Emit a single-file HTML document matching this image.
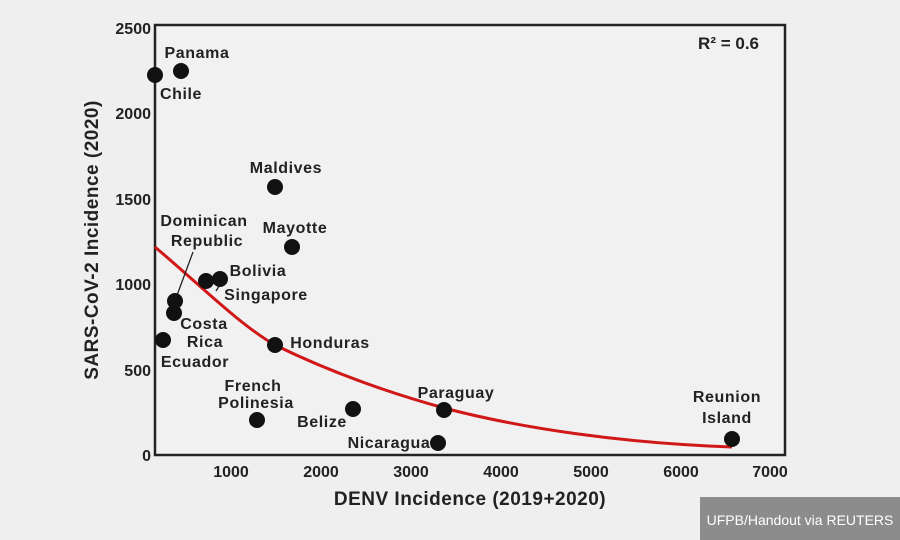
<!DOCTYPE html>
<html><head><meta charset="utf-8"><style>
body{margin:0;background:#efefef;}
svg{display:block}
text{font-family:"Liberation Sans",sans-serif;font-weight:bold;fill:#222;}
</style></head><body>
<svg width="900" height="540" viewBox="0 0 900 540">
<rect width="900" height="540" fill="#efefef"/>
<rect x="155" y="25" width="630" height="430" fill="#f1f1f1" stroke="#222" stroke-width="2.5"/>
<g font-size="16" text-anchor="end">
<text x="151" y="34">2500</text>
<text x="151" y="119">2000</text>
<text x="151" y="205">1500</text>
<text x="151" y="290">1000</text>
<text x="151" y="376">500</text>
<text x="151" y="461">0</text>
</g>
<g font-size="16" text-anchor="middle">
<text x="231" y="477">1000</text>
<text x="321" y="477">2000</text>
<text x="411" y="477">3000</text>
<text x="501" y="477">4000</text>
<text x="591" y="477">5000</text>
<text x="681" y="477">6000</text>
<text x="770" y="477">7000</text>
</g>
<text x="470" y="505" font-size="19" text-anchor="middle" letter-spacing="0.5">DENV Incidence (2019+2020)</text>
<text transform="translate(98,240) rotate(-90)" font-size="19" text-anchor="middle" letter-spacing="0.5">SARS-CoV-2 Incidence (2020)</text>
<text x="759" y="49" font-size="17" text-anchor="end">R² = 0.6</text>
<path d="M155,247 C200,285 240,325 275,345 C330,372 390,393 444,408 C520,428 620,443 732,447" fill="none" stroke="#d01818" stroke-width="3"/>
<g stroke="#222" stroke-width="1.3">
<line x1="193" y1="252" x2="176" y2="298"/>
<line x1="221" y1="283" x2="216" y2="291"/>
</g>
<g fill="#111">
<circle cx="155" cy="75" r="8"/><circle cx="181" cy="71" r="8"/>
<circle cx="275" cy="187" r="8"/><circle cx="292" cy="247" r="8"/>
<circle cx="220" cy="279" r="8"/><circle cx="206" cy="281" r="8"/>
<circle cx="175" cy="301" r="8"/><circle cx="174" cy="313" r="8"/>
<circle cx="163" cy="340" r="8"/><circle cx="275" cy="345" r="8"/>
<circle cx="257" cy="420" r="8"/><circle cx="353" cy="409" r="8"/>
<circle cx="444" cy="410" r="8"/><circle cx="438" cy="443" r="8"/>
<circle cx="732" cy="439" r="8"/>
</g>
<g font-size="16" text-anchor="middle" letter-spacing="0.6">
<text x="197" y="58">Panama</text>
<text x="181" y="99">Chile</text>
<text x="286" y="173">Maldives</text>
<text x="295" y="233">Mayotte</text>
<text x="204" y="226">Dominican</text>
<text x="207" y="246">Republic</text>
<text x="258" y="276">Bolivia</text>
<text x="266" y="300">Singapore</text>
<text x="204" y="329">Costa</text>
<text x="205" y="347">Rica</text>
<text x="195" y="367">Ecuador</text>
<text x="330" y="348">Honduras</text>
<text x="253" y="391">French</text>
<text x="256" y="408">Polinesia</text>
<text x="322" y="427">Belize</text>
<text x="389" y="448">Nicaragua</text>
<text x="456" y="398">Paraguay</text>
<text x="727" y="402">Reunion</text>
<text x="727" y="423">Island</text>
</g>
<rect x="700" y="497" width="200" height="43" fill="#8c8c8c"/>
<text x="800" y="525" font-size="14" text-anchor="middle" style="font-weight:normal;fill:#fff">UFPB/Handout via REUTERS</text>
</svg>
</body></html>
